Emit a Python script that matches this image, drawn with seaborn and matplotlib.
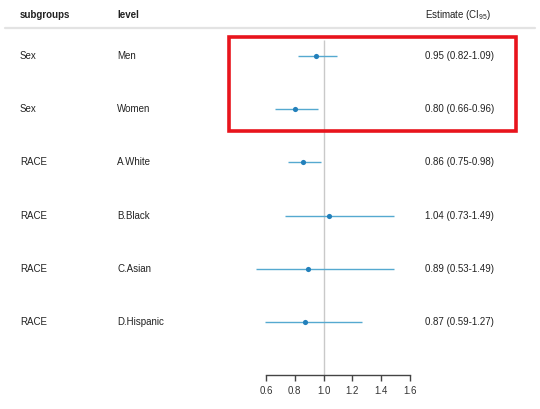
import matplotlib
matplotlib.use("Agg")
import matplotlib.pyplot as plt
import matplotlib.transforms as mtransforms
from matplotlib.patches import Rectangle
import seaborn as sns
import pandas as pd

# forest plot data
subgroups = ["Sex", "Sex", "RACE", "RACE", "RACE", "RACE"]
levels = ["Men", "Women", "A.White", "B.Black", "C.Asian", "D.Hispanic"]
estimate = [0.95, 0.80, 0.86, 1.04, 0.89, 0.87]
ci_low = [0.82, 0.66, 0.75, 0.73, 0.53, 0.59]
ci_high = [1.09, 0.96, 0.98, 1.49, 1.49, 1.27]
x_ticks = [0.6, 0.8, 1.0, 1.2, 1.4, 1.6]
highlight_rows = [0, 1]

df = pd.DataFrame({"subgroup": subgroups, "level": levels, "est": estimate,
                   "lo": ci_low, "hi": ci_high})
df["row"] = range(len(df))

sns.set_theme(style="white")
plt.rcParams["font.family"] = ["Liberation Sans", "DejaVu Sans"]
plt.rcParams["mathtext.fontset"] = "custom"
plt.rcParams["mathtext.rm"] = "Liberation Sans"
plt.rcParams["mathtext.it"] = "Liberation Sans"

fig = plt.figure(figsize=(5.4, 4.09), dpi=100)
ax = fig.add_axes([0, 0, 1, 1])

# map pixels -> data so the layout matches the picture
px_per_unit = 144.0
x0_px = 266.0
ax.set_xlim(0.6 - x0_px / px_per_unit, 0.6 + (540 - x0_px) / px_per_unit)
row_px = 53.2
first_row_px = 56.0
ax.set_ylim((409 - first_row_px) / row_px, -first_row_px / row_px)

line_col = "#55a9d0"
dot_col = "#2380bb"

# reference line at 1
ax.vlines(1.0, -0.3, len(df) - 0.004, color="#c9c9c9", lw=1.0, zorder=1)

ax.hlines(df["row"], df["lo"], df["hi"], color=line_col, lw=1.0, zorder=2)
sns.scatterplot(data=df, x="est", y="row", ax=ax, color=dot_col, s=14,
                edgecolor=dot_col, linewidth=0, zorder=3, legend=False)

trans = mtransforms.blended_transform_factory(ax.transAxes, ax.transData)
fs = 7
for _, r in df.iterrows():
    ax.text(20 / 540, r["row"], r["subgroup"], transform=trans, fontsize=fs,
            va="center", ha="left", color="#222222")
    ax.text(117 / 540, r["row"], r["level"], transform=trans, fontsize=fs,
            va="center", ha="left", color="#222222")
    ax.text(425 / 540, r["row"], f"{r['est']:.2f} ({r['lo']:.2f}-{r['hi']:.2f})",
            transform=trans, fontsize=fs, va="center", ha="left", color="#222222")

# header
hy = -0.77
ax.text(20 / 540, hy, "subgroups", transform=trans, fontsize=fs, weight="bold",
        va="center", ha="left", color="#222222")
ax.text(117 / 540, hy, "level", transform=trans, fontsize=fs, weight="bold",
        va="center", ha="left", color="#222222")
ax.text(425 / 540, hy, r"Estimate (CI$_{95}$)", transform=trans, fontsize=fs,
        va="center", ha="left", color="#222222")
ax.plot([5 / 540, 535 / 540], [-0.53, -0.53], transform=trans, color="#e3e3e3",
        lw=1.6, zorder=1)

# x axis drawn at the bottom of the rows
for s in ["top", "left", "right"]:
    ax.spines[s].set_visible(False)
ax.spines["bottom"].set_position(("data", len(df) - 0.004))
ax.spines["bottom"].set_bounds(x_ticks[0], x_ticks[-1])
ax.spines["bottom"].set_color("#444444")
ax.spines["bottom"].set_linewidth(1.0)
ax.set_xticks(x_ticks)
ax.set_xticklabels([f"{t:.1f}" for t in x_ticks], fontsize=fs, color="#333333")
ax.tick_params(axis="x", direction="out", length=4, width=1.0, color="#444444",
               pad=4, bottom=True)
ax.set_yticks([])
ax.set_xlabel("")
ax.set_ylabel("")

# red highlight box around the sex rows
rx0 = 0.6 + (229 - x0_px) / px_per_unit
rx1 = 0.6 + (516 - x0_px) / px_per_unit
ry0 = highlight_rows[0] - 0.36
ry1 = highlight_rows[-1] + 0.41
ax.add_patch(Rectangle((rx0, ry0), rx1 - rx0, ry1 - ry0, fill=False,
                       edgecolor="#e8141c", lw=2.6, zorder=4, clip_on=False))

fig.savefig("out.png", dpi=100)
